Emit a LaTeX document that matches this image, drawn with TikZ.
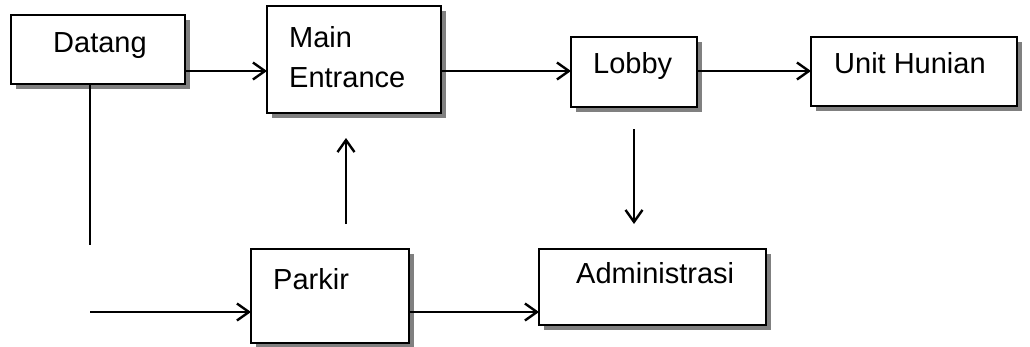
\documentclass[tikz,border=0pt]{standalone}
\usepackage{fontspec}
\setmainfont{Liberation Sans}
\usetikzlibrary{arrows.meta,shadows}
\begin{document}
\begin{tikzpicture}[x=1pt, y=-1pt, line width=2.4pt, >={Straight Barb[length=12pt,width=17pt]},
  box/.style={draw, fill=white, rectangle, anchor=north west, inner sep=0pt, outer sep=0pt,
    drop shadow={shadow xshift=5pt, shadow yshift=-5pt, fill=gray, opacity=1}},
  lbl/.style={inner sep=0pt, anchor=base west, font=\fontsize{29}{40}\selectfont}]
 				\useasboundingbox (0,0) rectangle (1030,346);
 				\path 
 				(0,71) coordinate (row1)
 				(0,312) coordinate (row2)
 				(90,245) coordinate (d1)
 				(90,312) coordinate (d2)
 				(346,224) coordinate (p1)
 				(346,138) coordinate (p2)
 				(634,129) coordinate (l1)
 				(634,224) coordinate (l2)
 				;
 				\foreach \n/\x/\y/\w/\h in {datang/11/15/174/69, main/267/6/174/107, lobby/571/37/126/70,
 				  unit/811/37/206/69, parkir/251/249/158/94, admin/539/249/227/76}
 				\node[box, minimum width=\w pt, minimum height=\h pt] (\n) at (\x,\y) {};
 				\node[lbl] (datang-t) at (52,52) {Datang};
 				\node[lbl, anchor=north west, align=left] (main-t) at (288,25) {Main\\Entrance};
 				\node[lbl] (lobby-t) at (592,73) {Lobby};
 				\node[lbl] (unit-t) at (833,73) {Unit Hunian};
 				\node[lbl] (parkir-t) at (272,289) {Parkir};
 				\node[lbl] (admin-t) at (575,283) {Administrasi};
 				\draw[->] (datang.east |- row1) -- (main.west |- row1);
 				\draw[->] (main.east |- row1) -- (lobby.west |- row1);
 				\draw[->] (lobby.east |- row1) -- (unit.west |- row1);
 				\draw (d1 |- datang.south) -- (d1);
 				\draw[->] (d2) -- (parkir.west |- d2);
 				\draw[->] (parkir.east |- row2) -- (admin.west |- row2);
 				\draw[->] (p1) -- (p2);
 				\draw[->] (l1) -- (l2);
 			\end{tikzpicture}
\end{document}
